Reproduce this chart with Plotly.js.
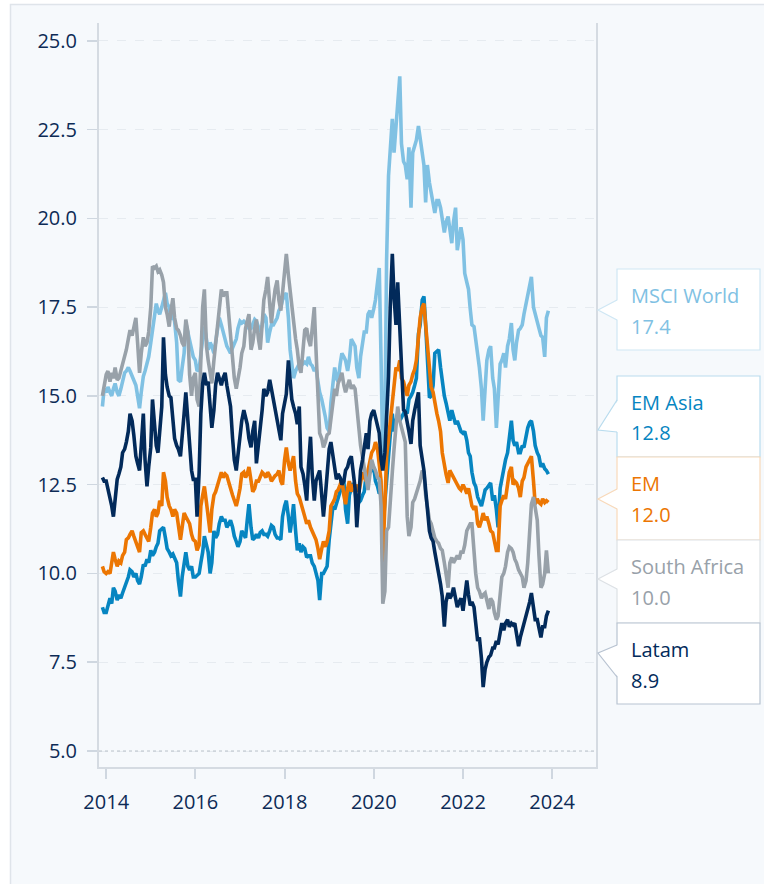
<!DOCTYPE html>
<html>
<head>
<meta charset="utf-8">
<script src="https://cdn.plot.ly/plotly-3.0.1.min.js"></script>
<style>
  html, body { margin: 0; padding: 0; background: #ffffff; }
  #chart { width: 764px; height: 884px; }
</style>
</head>
<body>
<div id="chart"></div>
<script>
// ---------------- DATA ----------------
const seriesNames = ["MSCI World", "EM Asia", "EM", "South Africa", "Latam"];

// semi-monthly observations (1st and 15th), 2013-12-01 .. 2023-12-01
const msciWorld = [
  14.7, 15.2,
  15.1, 15.25, 15.1, 15.0, 15.2, 15.35, 15.1, 15.0, 15.2, 15.4, 15.65, 15.7, 15.8, 15.7, 15.55, 15.4, 15.3, 15.0, 14.65, 15.1, 15.55, 15.7, 15.9, 16.1,
  16.5, 16.9, 17.4, 17.6, 17.4, 17.3, 17.5, 17.7, 17.9, 17.6, 17.5, 17.15, 17.3, 17.1, 16.5, 15.45, 15.4, 15.8, 16.2, 17.05, 16.8, 16.6, 16.3, 16.1,
  16.0, 15.7, 15.75, 16.3, 16.6, 16.95, 16.6, 16.3, 16.5, 16.4, 16.2, 16.5, 16.9, 17.2, 17.0, 16.8, 16.6, 16.4, 16.3, 16.2, 16.35, 16.5, 16.6, 16.9,
  17.1, 17.05, 17.1, 17.05, 16.95, 16.9, 16.9, 17.0, 17.15, 17.1, 16.9, 16.8, 17.0, 17.3, 17.2, 16.5, 16.8, 17.0, 17.0, 17.1, 17.2, 17.4, 17.5, 17.7,
  17.8, 17.9, 17.2, 16.3, 15.9, 15.5, 15.7, 15.8, 15.9, 15.85, 15.9, 15.95, 15.9, 16.1, 15.9, 15.85, 15.7, 15.8, 15.4, 15.1, 14.9, 14.7, 14.4, 14.1,
  14.0, 14.8, 15.3, 15.8, 15.5, 15.4, 15.9, 16.2, 16.1, 16.0, 15.7, 16.0, 16.6, 16.5, 16.4, 15.8, 15.5, 16.1, 16.4, 16.8, 16.8, 17.3, 17.4, 17.2,
  17.45, 17.7, 18.2, 18.6, 16.0, 13.2, 14.1, 18.8, 21.2, 22.0, 22.8, 21.85, 22.5, 23.05, 24.0, 22.1, 21.6, 21.5, 21.1, 22.0, 20.3, 21.85, 22.0, 22.2,
  22.6, 22.2, 21.9, 21.5, 20.45, 21.5, 21.0, 20.7, 20.5, 20.15, 20.5, 20.5, 20.3, 20.0, 19.6, 19.9, 20.05, 19.7, 19.3, 19.9, 20.3, 19.1, 19.5, 19.75,
  19.4, 18.45, 18.2, 18.0, 17.45, 17.0, 16.95, 16.6, 16.2, 15.8, 15.2, 14.3, 15.2, 16.0, 16.3, 16.4, 15.5, 15.2, 14.1, 15.0, 15.9, 16.0, 16.2, 15.8,
  16.4, 16.6, 17.05, 16.3, 16.0, 16.5, 16.85, 16.9, 17.0, 17.3, 17.6, 17.8, 18.0, 18.35, 17.5, 17.3, 17.0, 16.9, 16.7, 16.65, 16.1, 17.2, 17.4
];

const emAsia = [
  9.05, 8.9,
  8.9, 9.1, 9.3, 9.15, 9.6, 9.5, 9.25, 9.4, 9.3, 9.45, 9.6, 9.7, 9.9, 10.1, 10.05, 9.9, 10.0, 9.8, 9.7, 9.9, 10.25, 10.2, 10.4, 10.3,
  10.65, 10.5, 10.6, 10.75, 10.85, 11.2, 11.25, 11.3, 11.0, 10.7, 10.6, 10.5, 10.55, 10.4, 10.3, 9.8, 9.35, 9.9, 10.3, 10.6, 10.2, 10.1, 10.2, 9.9,
  9.9, 9.95, 10.0, 10.3, 10.6, 11.05, 10.8, 10.6, 10.0, 10.3, 11.2, 11.0, 11.1, 11.4, 11.6, 11.5, 11.5, 11.3, 11.4, 11.5, 11.3, 11.05, 10.9, 10.75,
  10.9, 11.2, 11.1, 11.0, 11.5, 11.95, 11.3, 10.95, 11.0, 11.1, 11.0, 11.15, 11.2, 11.1, 11.1, 11.05, 11.2, 11.35, 11.3, 11.1, 11.0, 11.0, 10.95, 11.6,
  11.9, 12.05, 11.6, 11.15, 11.5, 11.95, 11.2, 10.65, 10.85, 10.6, 10.75, 10.7, 10.45, 10.5, 10.5, 10.3, 10.2, 10.0, 9.8, 9.25, 10.0, 10.0, 10.1, 10.2,
  10.95, 11.3, 11.9, 11.8, 11.95, 12.1, 12.25, 12.4, 12.65, 11.8, 11.4, 12.2, 12.35, 12.55, 12.3, 11.9, 12.0, 12.05, 12.2, 12.3, 12.8, 12.8, 12.85, 12.9,
  13.0, 12.6, 12.45, 12.25, 12.3, 11.2, 12.0, 12.5, 13.3, 13.9, 14.5, 14.0, 14.3, 14.5, 14.3, 14.4, 14.5, 14.6, 14.5, 14.9, 15.0, 15.1, 15.3, 15.5,
  16.75, 17.0, 17.7, 17.8, 17.0, 16.0, 14.95, 15.0, 15.3, 16.2, 16.25, 16.3, 15.8, 15.4, 15.0, 14.8, 14.5, 14.3, 14.6, 14.4, 14.2, 14.3, 14.1, 14.0,
  13.95, 14.0, 13.75, 13.4, 13.3, 12.85, 12.55, 12.45, 12.15, 12.0, 11.9, 12.1, 12.35, 12.4, 12.5, 12.55, 12.05, 12.2, 11.8, 11.3, 12.4, 12.65, 13.0, 13.2,
  13.4, 13.9, 14.3, 13.75, 13.6, 13.7, 13.4, 13.4, 13.6, 13.55, 13.9, 14.1, 14.25, 14.3, 14.0, 13.6, 13.4, 13.3, 13.0, 13.1, 12.95, 12.9, 12.8
];

const em = [
  10.2, 10.05,
  10.0, 10.05, 10.0, 10.3, 10.6, 10.4, 10.2, 10.35, 10.3, 10.5, 10.6, 10.95, 11.0, 11.1, 11.2, 11.05, 10.9, 10.8, 10.6, 11.15, 11.2, 11.1, 11.0, 10.9,
  11.3, 11.7, 11.8, 11.6, 11.7, 12.05, 11.9, 12.85, 12.6, 12.15, 11.9, 11.8, 11.6, 11.8, 11.7, 11.4, 10.95, 11.3, 11.7, 11.6, 11.5, 11.4, 11.1, 10.95,
  10.9, 10.65, 10.8, 11.9, 12.2, 12.45, 12.0, 11.5, 11.15, 11.8, 12.2, 12.3, 12.5, 12.7, 12.85, 12.7, 12.8, 12.75, 12.6, 12.4, 12.2, 12.05, 11.9, 12.1,
  12.4, 12.8, 12.85, 12.7, 12.8, 13.0, 12.5, 12.3, 12.4, 12.6, 12.6, 12.75, 12.85, 12.8, 12.7, 12.85, 12.75, 12.6, 12.7, 12.75, 12.8, 12.9, 12.6, 12.5,
  13.2, 13.55, 13.1, 12.9, 13.1, 13.3, 12.6, 12.25, 12.15, 12.0, 11.8, 11.6, 11.4, 11.5, 11.3, 11.2, 11.1, 10.95, 10.7, 10.4, 10.7, 10.9, 10.75, 10.9,
  11.2, 11.9, 12.0, 12.1, 12.3, 12.35, 12.5, 12.65, 12.2, 11.95, 12.4, 12.6, 12.3, 12.45, 12.4, 12.5, 12.3, 12.6, 12.85, 12.7, 12.6, 12.9, 13.2, 13.4,
  13.5, 13.7, 13.5, 13.0, 12.6, 10.3, 12.0, 13.3, 13.8, 14.3, 14.8, 15.3, 15.8, 15.7, 16.0, 15.5, 15.4, 15.2, 15.0, 15.3, 15.4, 15.6, 15.75, 16.0,
  16.75, 17.2, 17.5, 17.6, 17.0, 16.4, 15.6, 15.25, 15.1, 14.8, 14.5, 14.3, 14.0, 13.4, 13.0, 12.8, 12.55, 12.9, 12.8, 12.7, 12.6, 12.5, 12.4, 12.35,
  12.5, 12.4, 12.25, 12.4, 12.1, 11.9, 11.8, 11.9, 11.4, 11.3, 11.5, 11.7, 11.5, 11.6, 11.4, 11.2, 11.15, 10.9, 10.65, 10.65, 11.9, 12.05, 12.2, 12.1,
  12.45, 12.85, 13.0, 12.5, 12.6, 12.55, 12.4, 12.15, 12.6, 12.7, 13.0, 13.1, 13.2, 13.3, 12.6, 11.95, 12.1, 12.0, 11.95, 12.1, 12.0, 12.05, 12.0
];

const southAfrica = [
  15.0, 15.3,
  15.6, 15.7, 15.4, 15.65, 15.5, 15.8, 15.45, 15.5, 15.7, 15.9, 16.1, 16.3, 16.6, 16.85, 16.7, 16.9, 17.2, 16.5, 15.65, 16.2, 16.65, 16.4, 16.5, 16.8,
  17.5, 18.65, 18.6, 18.65, 18.5, 18.55, 18.4, 18.2, 17.5, 17.3, 16.95, 17.4, 17.75, 17.2, 16.9, 16.85, 16.7, 16.5, 16.4, 17.15, 16.8, 15.6, 15.0, 15.5,
  15.65, 14.9, 14.7, 16.0, 17.5, 18.0, 16.4, 16.0, 15.6, 15.35, 16.0, 16.5, 17.05, 17.6, 18.0, 17.8, 17.9, 17.9, 17.2, 16.6, 16.0, 15.5, 15.2, 15.45,
  15.8, 16.2, 16.4, 16.9, 17.1, 17.3, 16.3, 16.5, 16.9, 17.15, 16.6, 16.3, 17.0, 17.7, 18.0, 18.35, 17.6, 17.05, 17.6, 18.0, 18.25, 17.7, 17.4, 17.9,
  18.4, 19.0, 18.4, 17.95, 17.5, 17.15, 16.6, 16.3, 15.8, 15.65, 16.2, 16.85, 16.9, 16.6, 16.4, 17.0, 17.5, 16.3, 15.2, 13.95, 13.8, 13.55, 13.7, 13.9,
  13.95, 14.3, 14.7, 15.2, 15.0, 15.35, 15.5, 15.65, 15.3, 15.1, 15.3, 15.45, 15.2, 15.3, 15.2, 14.6, 14.1, 13.6, 13.3, 12.9, 12.65, 12.35, 12.8, 13.2,
  13.0, 12.9, 12.7, 12.65, 11.9, 9.15, 9.5, 11.2, 11.3, 12.2, 12.85, 13.5, 14.3, 14.7, 14.3, 14.1, 13.8, 13.7, 11.6, 11.05, 11.3, 12.0, 12.1, 12.3,
  12.45, 12.6, 12.9, 12.85, 12.2, 11.9, 11.5, 11.4, 11.2, 11.0, 10.9, 10.85, 10.7, 10.65, 10.3, 9.9, 9.6, 10.3, 10.45, 10.3, 10.4, 10.5, 10.4, 10.6,
  10.6, 10.8, 11.2, 11.3, 11.4, 11.4, 10.6, 10.0, 9.6, 9.5, 9.3, 9.4, 9.45, 9.2, 9.0, 9.3, 9.2, 8.9, 8.7, 8.8, 9.3, 9.9, 10.0, 10.2,
  10.6, 10.75, 10.7, 10.6, 10.4, 10.3, 10.1, 10.0, 9.9, 9.6, 9.8, 10.3, 11.2, 11.95, 12.15, 11.9, 11.5, 10.5, 9.6, 9.7, 10.0, 10.65, 10.0
];

const latam = [
  12.7, 12.6,
  12.6, 12.4, 12.05, 11.9, 11.6, 12.2, 12.65, 12.8, 13.0, 13.4, 13.5, 13.7, 14.0, 14.5, 14.3, 13.9, 13.3, 13.1, 12.9, 13.6, 14.5, 13.2, 12.45, 13.0,
  13.55, 14.9, 14.2, 13.6, 13.4, 14.1, 14.7, 16.65, 15.6, 15.25, 15.0, 14.95, 14.2, 13.8, 13.6, 13.5, 13.3, 14.0, 14.5, 15.1, 14.2, 13.6, 12.9, 12.65,
  12.65, 11.6, 12.85, 14.5, 15.35, 15.65, 15.3, 15.4, 14.8, 14.1, 14.6, 15.3, 15.65, 15.5, 15.3, 15.5, 15.65, 15.3, 14.9, 14.7, 13.8, 13.2, 12.9, 13.3,
  13.95, 14.3, 14.6, 14.4, 14.2, 13.8, 13.55, 14.0, 14.3, 13.1, 13.6, 14.0, 14.6, 15.2, 15.0, 15.1, 15.45, 15.2, 14.9, 14.6, 14.4, 14.0, 13.75, 14.5,
  14.8, 15.05, 16.0, 15.3, 14.9, 14.7, 14.5, 14.2, 14.7, 13.0, 12.8, 12.5, 12.05, 13.0, 13.85, 12.8, 12.05, 12.6, 12.8, 12.9, 12.2, 11.6, 12.2, 12.9,
  13.5, 13.7, 13.3, 12.9, 12.65, 12.8, 12.7, 12.5, 12.6, 12.9, 13.0, 13.2, 13.3, 12.9, 12.4, 11.3, 12.3, 12.9, 13.2, 13.6, 13.95, 13.5, 14.3, 14.5,
  14.6, 14.4, 14.2, 13.95, 13.2, 12.9, 13.4, 14.6, 15.55, 17.5, 19.0, 17.8, 17.0, 18.2, 17.0, 15.6, 14.6, 14.55, 14.3, 14.0, 13.65, 14.3, 14.6, 14.8,
  15.1, 13.6, 13.2, 12.9, 12.35, 11.8, 11.2, 11.0, 10.9, 10.6, 10.3, 10.0, 9.7, 9.35, 8.5, 9.2, 9.45, 9.3, 9.4, 9.6, 9.3, 9.05, 9.2, 9.3,
  8.95, 9.3, 9.8, 9.4, 9.1, 9.2, 9.05, 8.6, 8.1, 8.2, 7.6, 6.8, 7.3, 7.5, 7.65, 7.7, 7.9, 7.9, 8.1, 8.0, 8.3, 8.6, 8.4, 8.6,
  8.7, 8.5, 8.6, 8.55, 8.6, 8.3, 7.95, 8.2, 8.4, 8.6, 8.8, 9.05, 9.2, 9.45, 9.0, 8.7, 8.7, 8.5, 8.2, 8.5, 8.5, 8.8, 8.95
];

const yTickValues = [5, 7.5, 10, 12.5, 15, 17.5, 20, 22.5, 25];
const xTickYears = ["2014", "2016", "2018", "2020", "2022", "2024"];

// observation dates: 1st and 15th of each month, 2013-12-01 .. 2023-12-01
const dates = [];
for (let y = 2013; y <= 2023; y++) {
  for (let m = 1; m <= 12; m++) {
    for (const d of [1, 15]) {
      const s = y + "-" + String(m).padStart(2, "0") + "-" + String(d).padStart(2, "0");
      if (s >= "2013-12-01" && s <= "2023-12-01") dates.push(s);
    }
  }
}

const seriesValues = [msciWorld, emAsia, em, southAfrica, latam];

// ---------------- STYLE ----------------
const lineColors = ["#80c1e3", "#0685c1", "#ec7602", "#98a1a9", "#022a5a"];
const boxBorders = ["#cfe7f4", "#b9dcee", "#f8d9b9", "#dde1e5", "#b8c3d1"];
const textColor = "#0d2b56";
const FONT = "'Source Sans Pro', 'Open Sans', sans-serif";

// plot area in pixels
const PL = 99, PR = 596, PT = 23, PB = 767;
const px2x = px => (px - PL) / (PR - PL);
const py2y = py => (PB - py) / (PB - PT);

// callout boxes (pixels)
const boxes = [
  { top: 269, bottom: 350, tip: 310, b0: 300, b1: 320 },
  { top: 376, bottom: 457, tip: 430, b0: 400, b1: 432 },
  { top: 457, bottom: 540, tip: 499, b0: 489, b1: 509 },
  { top: 540, bottom: 623, tip: 579, b0: 569, b1: 589 },
  { top: 623, bottom: 704, tip: 653, b0: 645, b1: 677 }
];
const BOX_L = 617, BOX_R = 760, TIP_X = 598, TEXT_X = 629;

for (let i = 0; i < seriesValues.length; i++) {
  if (seriesValues[i].length !== dates.length) {
    console.error(seriesNames[i] + " length " + seriesValues[i].length + " vs " + dates.length);
  }
}

const traces = seriesValues.map((vals, i) => ({
  type: "scatter",
  mode: "lines",
  x: dates,
  y: vals,
  name: seriesNames[i],
  line: { color: lineColors[i], width: 3.6 },
  hoverinfo: "skip",
  showlegend: false
}));

const shapes = [];
// panel background
shapes.push({
  type: "rect", xref: "paper", yref: "paper", layer: "below",
  x0: px2x(10.5), x1: px2x(900), y0: py2y(4.5), y1: py2y(1000),
  fillcolor: "#f6f9fc", line: { color: "#dfe4ea", width: 1.5 }
});
// dotted baseline at 5.0
shapes.push({
  type: "line", xref: "paper", yref: "y", x0: 0, x1: 1, y0: 5, y1: 5,
  line: { color: "#b9c1ca", width: 1, dash: "dot" }
});

const annotations = [];
boxes.forEach((b, i) => {
  shapes.push({
    type: "rect", xref: "paper", yref: "paper",
    x0: px2x(BOX_L), x1: px2x(BOX_R), y0: py2y(b.bottom), y1: py2y(b.top),
    fillcolor: "#ffffff", line: { color: boxBorders[i], width: 1.2 }
  });
  shapes.push({
    type: "path", xref: "paper", yref: "paper",
    path: "M " + px2x(BOX_L + 1.2) + "," + py2y(b.b0) + " L " + px2x(TIP_X) + "," + py2y(b.tip) +
          " L " + px2x(BOX_L + 1.2) + "," + py2y(b.b1) + " Z",
    fillcolor: "#ffffff", line: { width: 0 }
  });
  shapes.push({
    type: "path", xref: "paper", yref: "paper",
    path: "M " + px2x(BOX_L) + "," + py2y(b.b0) + " L " + px2x(TIP_X) + "," + py2y(b.tip) +
          " L " + px2x(BOX_L) + "," + py2y(b.b1),
    line: { color: boxBorders[i], width: 1.2 }
  });
  const vals = seriesValues[i];
  annotations.push({
    xref: "paper", yref: "paper", x: px2x(TEXT_X), y: py2y(b.top + 26),
    xanchor: "left", yanchor: "middle", showarrow: false,
    text: seriesNames[i], font: { family: FONT, size: 20, color: lineColors[i] }
  });
  annotations.push({
    xref: "paper", yref: "paper", x: px2x(TEXT_X), y: py2y(b.top + 57),
    xanchor: "left", yanchor: "middle", showarrow: false,
    text: vals[vals.length - 1].toFixed(1), font: { family: FONT, size: 20, color: lineColors[i] }
  });
});

const layout = {
  width: 764, height: 884,
  margin: { l: PL, r: 764 - PR, t: PT, b: 884 - PB, pad: 0 },
  paper_bgcolor: "#ffffff",
  plot_bgcolor: "rgba(0,0,0,0)",
  font: { family: FONT, color: textColor, size: 20 },
  showlegend: false,
  xaxis: {
    type: "date",
    range: ["2013-11-03", "2024-12-25"],
    tickvals: xTickYears.map(y => y + "-01-01"),
    ticktext: xTickYears,
    ticks: "outside", ticklen: 10, tickwidth: 2, tickcolor: "#cfd7e0",
    showline: true, linecolor: "#d5dbe2", linewidth: 2,
    showgrid: false, zeroline: false,
    tickfont: { family: FONT, size: 20, color: textColor },
    ticklabelstandoff: 6,
    fixedrange: true
  },
  yaxis: {
    range: [4.55, 25.5],
    tickvals: yTickValues,
    ticktext: yTickValues.map(v => v.toFixed(1)),
    ticks: "outside", ticklen: 10, tickwidth: 1.5, tickcolor: "#cfd7e0",
    showline: true, mirror: true, linecolor: "#d5dbe2", linewidth: 2,
    showgrid: true, gridcolor: "#e6ebf0", gridwidth: 1, griddash: "dash",
    zeroline: false,
    tickfont: { family: FONT, size: 20, color: textColor },
    ticklabelstandoff: 6,
    fixedrange: true
  },
  shapes: shapes,
  annotations: annotations
};

Plotly.newPlot("chart", traces, layout, { displayModeBar: false, staticPlot: true });
</script>
</body>
</html>
